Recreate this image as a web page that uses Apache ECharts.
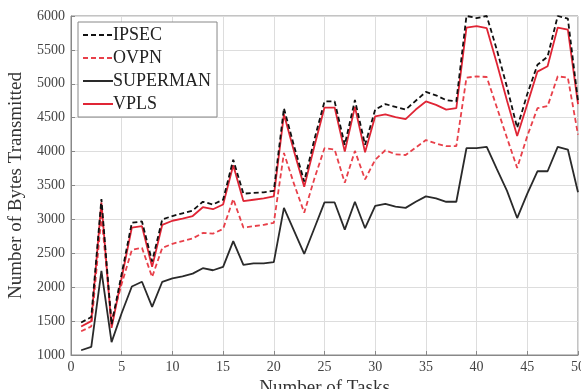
<!DOCTYPE html>
<html><head><meta charset="utf-8">
<script src="https://cdn.jsdelivr.net/npm/echarts@6/dist/echarts.min.js"></script>
<style>html,body{margin:0;padding:0;background:#fff}#c{width:581px;height:389px}</style>
</head><body><div id="c"></div>
<script>
const tasks = [1,2,3,4,5,6,7,8,9,10,11,12,13,14,15,16,17,18,19,20,21,22,23,24,25,26,27,28,29,30,31,32,33,34,35,36,37,38,39,40,41,42,43,44,45,46,47,48,49,50];
const ipsec = [1480,1560,3300,1450,2200,2950,2970,2380,3000,3050,3090,3130,3260,3220,3290,3880,3380,3390,3400,3420,4640,4080,3560,4180,4740,4740,4100,4760,4100,4620,4700,4660,4620,4750,4880,4830,4760,4740,6000,5970,6000,5500,4950,4350,4850,5280,5400,6000,5960,4750];
const ovpn = [1350,1420,3050,1500,2050,2550,2580,2150,2580,2640,2680,2720,2800,2790,2860,3300,2880,2900,2920,2950,3980,3520,3100,3600,4050,4030,3540,4010,3590,3880,4020,3960,3950,4060,4170,4120,4080,4080,5090,5110,5100,4650,4200,3760,4230,4640,4670,5110,5090,4250];
const superman = [1070,1120,2240,1190,1620,2010,2080,1710,2080,2130,2160,2200,2280,2250,2300,2680,2330,2350,2350,2370,3170,2830,2490,2870,3250,3250,2850,3260,2870,3200,3230,3190,3170,3260,3340,3310,3260,3260,4050,4050,4070,3740,3420,3020,3380,3710,3710,4070,4030,3400];
const vpls = [1420,1500,3250,1400,2140,2880,2900,2300,2920,2980,3010,3050,3180,3150,3220,3800,3270,3290,3310,3340,4550,4000,3480,4080,4650,4650,4000,4660,3990,4520,4550,4510,4480,4620,4740,4690,4620,4640,5830,5850,5820,5300,4750,4230,4700,5180,5260,5830,5800,4700];
const legendNames = ['IPSEC','OVPN','SUPERMAN','VPLS'];
const xTicks = {min:0, max:50, interval:5};
const yTicks = {min:1000, max:6000, interval:500};

const serif = 'Liberation Serif';
function mk(name, data, color, type, width){
  return {name, type:'line', data: tasks.map((t,i)=>[t,data[i]]), symbol:'none',
    lineStyle:{color, type, width}, itemStyle:{color}, z: 3};
}
const chart = echarts.init(document.getElementById('c'), null, {renderer:'canvas'});
chart.setOption({
  animation:false,
  backgroundColor:'#fff',
  grid:{left:71, right:3, top:16, bottom:34, containLabel:false, outerBoundsMode:'none',
    show:true, borderColor:'#888', borderWidth:1},
  legend:{orient:'vertical', left:78, top:22, padding:[4,6,4,4], itemGap:5,
    backgroundColor:'#fff', borderColor:'#888', borderWidth:1,
    itemWidth:30, itemHeight:14, itemStyle:{opacity:0},
    textStyle:{fontFamily:serif, fontSize:18, color:'#222', padding:[0,0,0,-5]},
    data:legendNames},
  xAxis:{type:'value', min:xTicks.min, max:xTicks.max, interval:xTicks.interval,
    name:'Number of Tasks', nameLocation:'middle', nameGap:20,
    nameTextStyle:{fontFamily:serif, fontSize:19, color:'#333'},
    axisLine:{show:true, lineStyle:{color:'#888'}}, axisTick:{show:true, inside:true, length:4, lineStyle:{color:'#888'}},
    axisLabel:{fontFamily:serif, fontSize:14, color:'#444', margin:5, formatter:v=>String(v)},
    splitLine:{show:true, lineStyle:{color:'#ddd'}}},
  yAxis:{type:'value', min:yTicks.min, max:yTicks.max, interval:yTicks.interval,
    name:'Number of Bytes Transmitted', nameLocation:'middle', nameGap:45,
    nameTextStyle:{fontFamily:serif, fontSize:19, color:'#333'},
    axisLine:{show:true, lineStyle:{color:'#888'}}, axisTick:{show:true, inside:true, length:4, lineStyle:{color:'#888'}},
    axisLabel:{fontFamily:serif, fontSize:14, color:'#444', margin:6, formatter:v=>String(v)},
    splitLine:{show:true, lineStyle:{color:'#ddd'}}},
  series:[
    mk('SUPERMAN', superman, '#2a2a2a', 'solid', 1.8),
    mk('OVPN', ovpn, '#e8404a', [5,3], 1.8),
    mk('VPLS', vpls, '#e02535', 'solid', 1.8),
    mk('IPSEC', ipsec, '#111111', [5,3], 1.8)
  ]
});
</script></body></html>
